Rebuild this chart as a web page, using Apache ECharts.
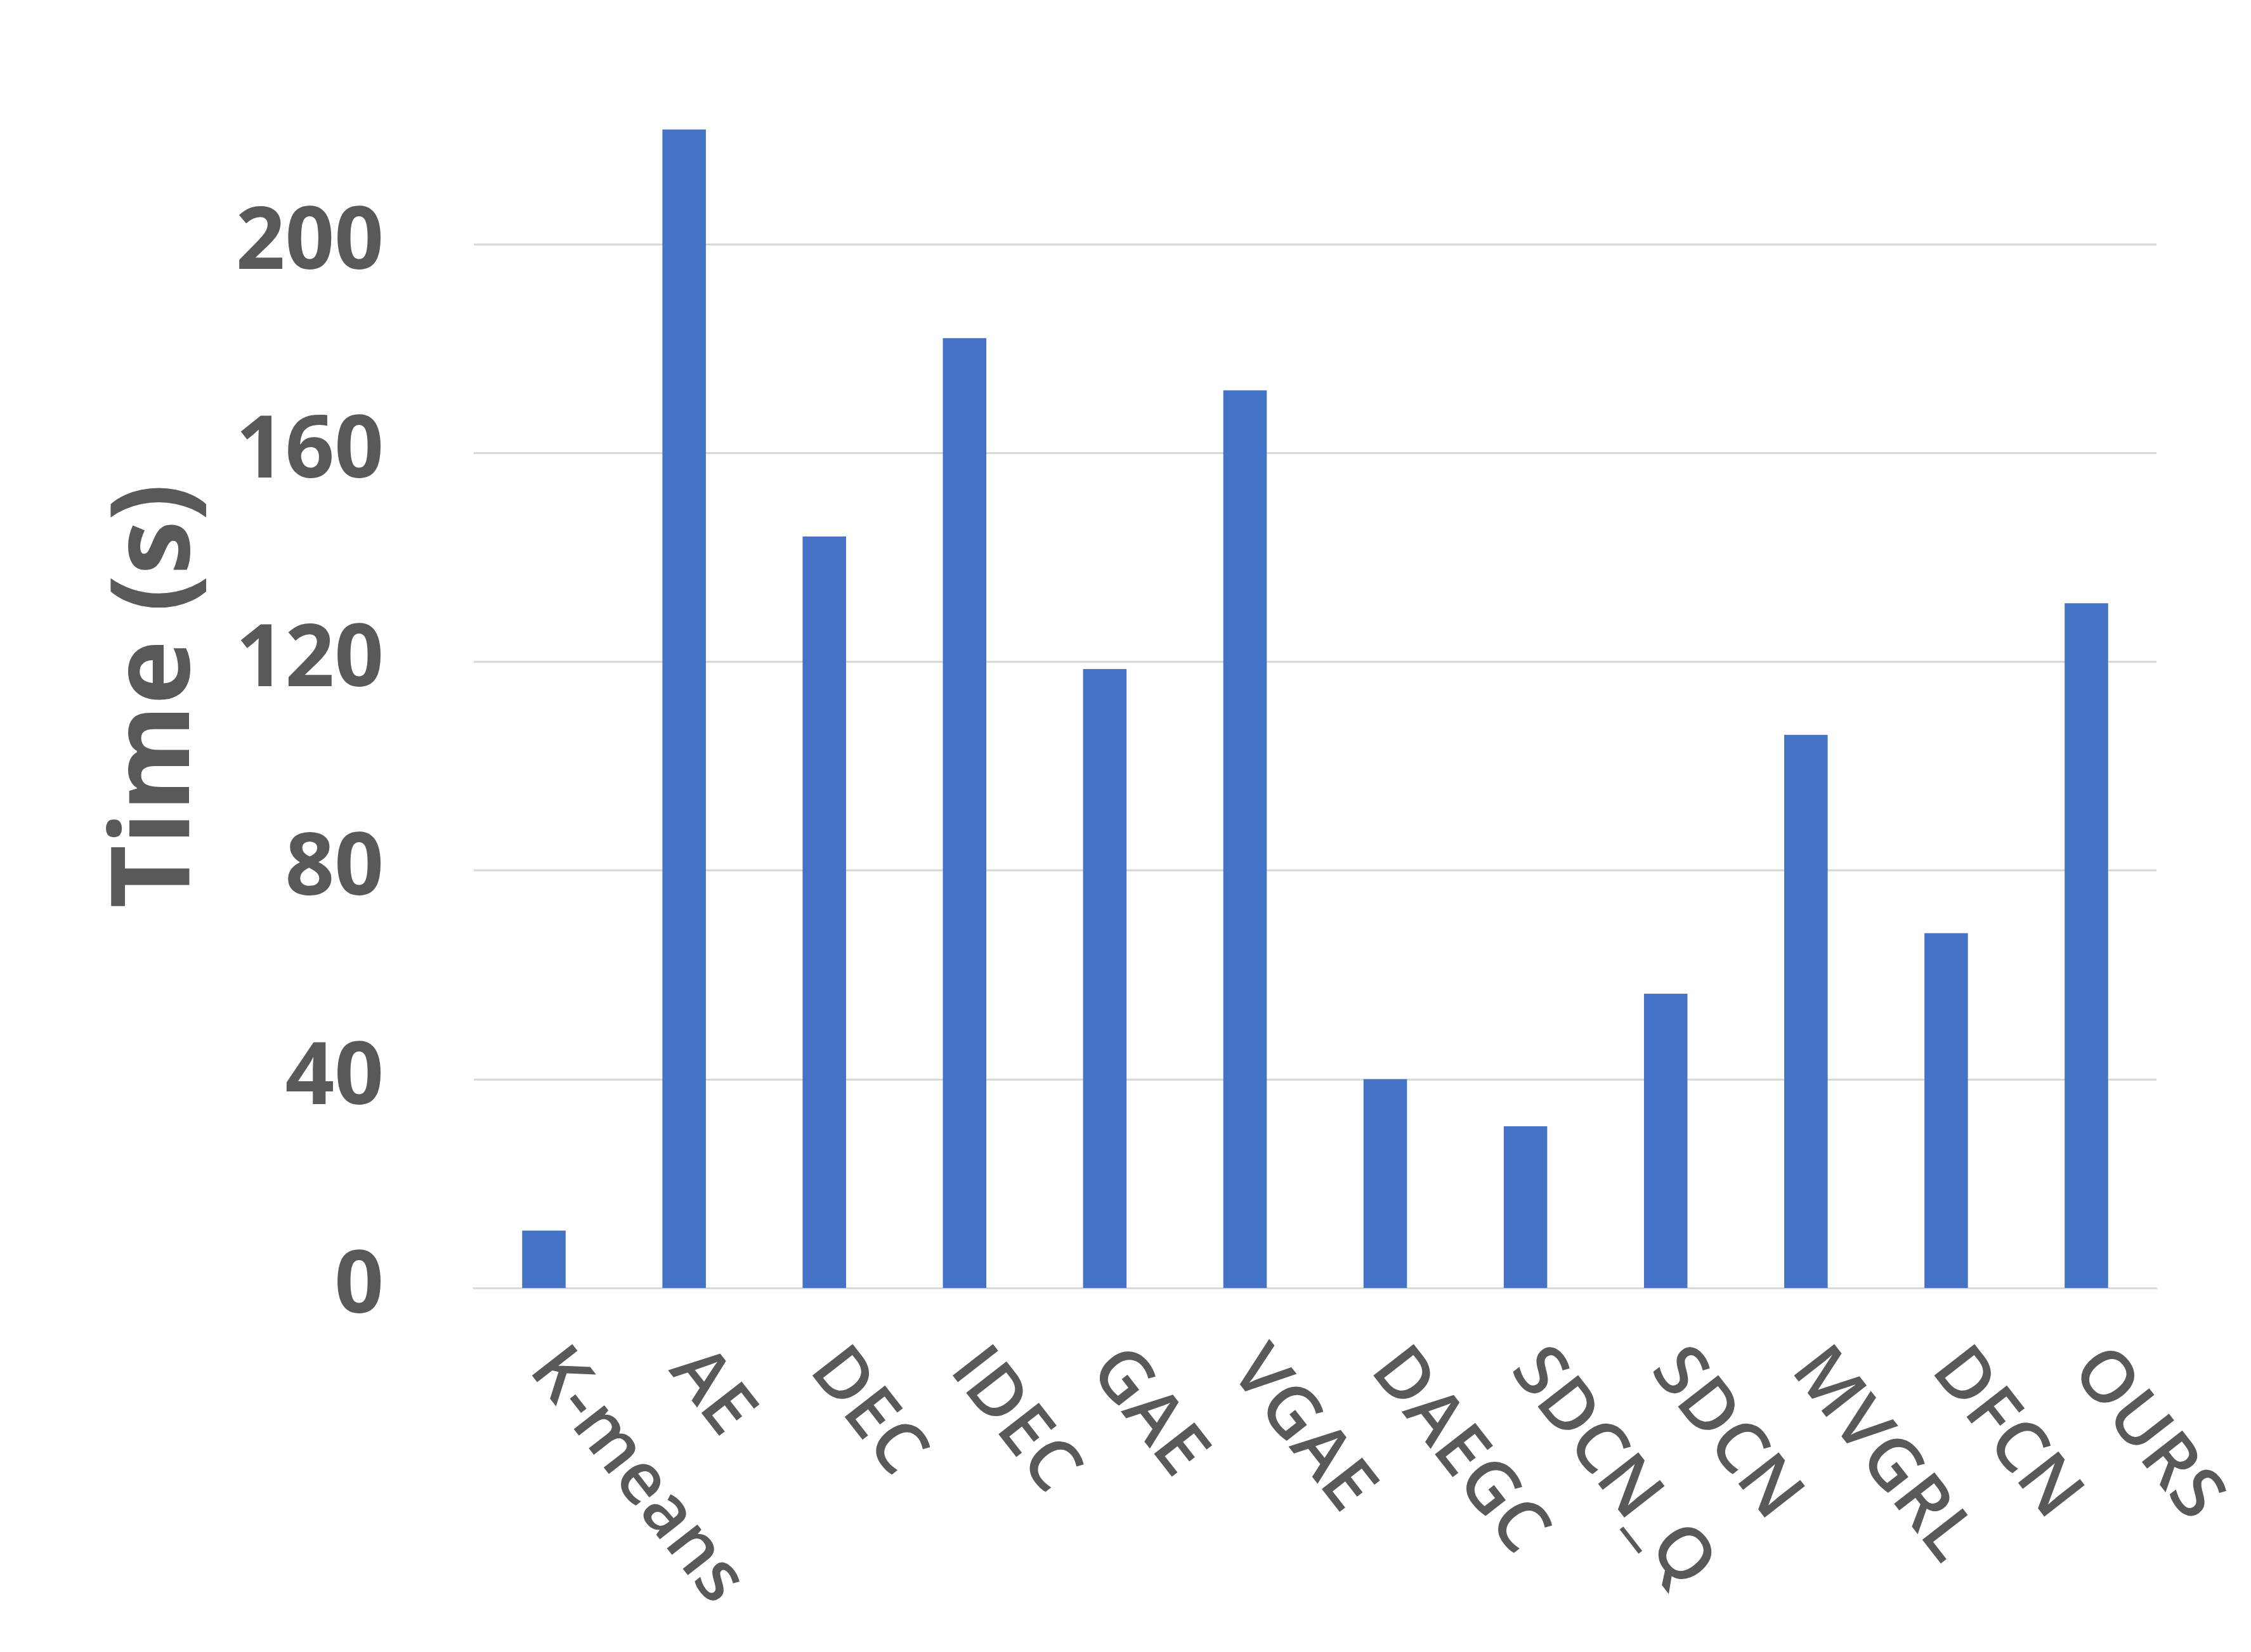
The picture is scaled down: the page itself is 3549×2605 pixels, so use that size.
<!DOCTYPE html>
<html>
<head>
<meta charset="utf-8">
<script src="https://cdn.jsdelivr.net/npm/echarts@6/dist/echarts.min.js"></script>
<style>
	html,body{margin:0;padding:0;background:#fff;}
	#main{width:3549px;height:2605px;}
</style>
</head>
<body>
<div id="main"></div>
<script>
// 方法名
var methods = ['K-means','AE','DEC','IDEC','GAE','VGAE','DAEGC','SDCN_Q','SDCN','MVGRL','DFCN','OURS'];
// 运行时间 (s)
var times = [11, 222, 144, 182, 118.6, 172, 40, 31, 56.4, 106, 68, 131.2];
// y轴刻度
var yTicks = [0, 40, 80, 120, 160, 200];

var myChart = echarts.init(document.getElementById('main'));
var gridColors = yTicks.map(function(){return '#d9d9d9';});
gridColors.push('rgba(0,0,0,0)'); // 240 那条不画

var option = {
	backgroundColor:'#ffffff',
	animation:false,
	grid:{
		left:747,
		right:149,
		top:56,
		bottom:574
	},
	xAxis:{
		type:'category',
		data:methods,
		axisLine:{
			lineStyle:{color:'#d9d9d9',width:3}
		},
		axisTick:{show:false},
		axisLabel:{
			interval:0,
			rotate:-52,
			margin:110,
			color:'#595959',
			fontFamily:'Open Sans',
			fontWeight:600,
			fontSize:113
		}
	},
	yAxis:{
		type:'value',
		min:0,
		max:240,
		interval:40,
		name:'Time (s)',
		nameLocation:'middle',
		nameGap:412,
		nameTextStyle:{
			color:'#595959',
			fontFamily:'Open Sans',
			fontWeight:'bold',
			fontSize:172,
			padding:[0,108,0,0]
		},
		axisLine:{show:false},
		axisTick:{show:false},
		axisLabel:{
			margin:142,
			color:'#595959',
			fontFamily:'Open Sans',
			fontWeight:'bold',
			fontSize:136,
			formatter:function(v){
				return yTicks.indexOf(v) >= 0 ? String(v) : '';
			}
		},
		splitLine:{
			lineStyle:{color:gridColors,width:3}
		}
	},
	series:[
		{
			name:'Time',
			type:'bar',
			barWidth:'31%',
			itemStyle:{color:'#4472c4'},
			data:times
		}
	]
};

myChart.setOption(option, true);
</script>
</body>
</html>
